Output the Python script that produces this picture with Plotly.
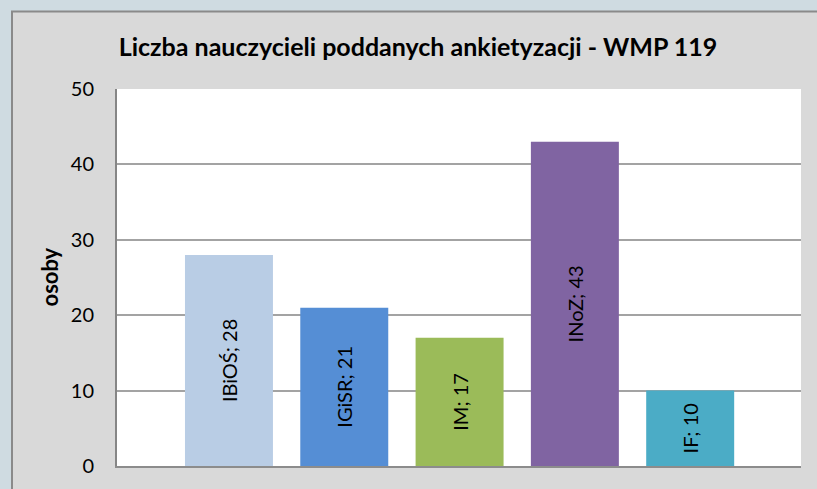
import plotly.graph_objects as go

categories = ["IBiOŚ", "IGiSR", "IM", "INoZ", "IF"]
values = [28, 21, 17, 43, 10]
colors = ["#b9cde5", "#558ed5", "#9bbb59", "#8064a2", "#4bacc6"]
y_ticks = [0, 10, 20, 30, 40, 50]

title_text = "Liczba nauczycieli poddanych ankietyzacji - WMP 119"
y_title = "osoby"

labels = [f"{c}; {v}" for c, v in zip(categories, values)]

fig = go.Figure()
fig.add_trace(go.Bar(
    x=categories,
    y=values,
    marker=dict(color=colors, line=dict(width=0)),
    width=0.763,
    text=labels,
    textposition="inside",
    insidetextanchor="middle",
    textangle=-90,
    textfont=dict(family="Lato", size=20, color="#000000"),
    hoverinfo="skip",
))

W, H = 817, 489
L, R, T, B = 117, 16, 89, 20
pw, ph = W - L - R, H - T - B

def fx(px):
    return (px - L) / pw

def fy(py):
    return (H - B - py) / ph

shapes = [
    # chart area
    dict(type="rect", xref="paper", yref="paper",
         x0=fx(12), x1=fx(830), y0=fy(500), y1=fy(11),
         fillcolor="#d9d9d9", line=dict(color="#8a8a8a", width=2), layer="below"),
    # plot area
    dict(type="rect", xref="paper", yref="paper",
         x0=0, x1=1, y0=0, y1=1,
         fillcolor="#ffffff", line=dict(width=0), layer="below"),
]

fig.update_layout(
    width=W, height=H,
    margin=dict(l=L, r=R, t=T, b=B, pad=0),
    paper_bgcolor="#cfdbe1",
    plot_bgcolor="rgba(0,0,0,0)",
    shapes=shapes,
    showlegend=False,
    title=dict(text=f"<b>{title_text}</b>", x=fx(418), xanchor="center",
               xref="paper", y=1 - 47 / H, yanchor="middle",
               font=dict(family="Lato", size=25, color="#000000")),
    font=dict(family="Lato", color="#000000"),
    annotations=[dict(text=f"<b>{y_title}</b>", xref="paper", yref="paper",
                      x=fx(49), y=fy(279), xanchor="center", yanchor="middle",
                      textangle=-90, showarrow=False,
                      font=dict(family="Lato", size=22, color="#000000"))],
    xaxis=dict(
        range=[-0.971, 4.961],
        showticklabels=False,
        showgrid=False,
        zeroline=False,
        showline=True, linecolor="#8c8c8c", linewidth=1.5,
        fixedrange=True,
    ),
    yaxis=dict(
        range=[0, 50],
        tickvals=y_ticks,
        ticks="",
        ticklabelstandoff=17,
        tickfont=dict(family="Lato", size=20, color="#000000"),
        showgrid=True, gridcolor="#a3a3a3", gridwidth=1.5,
        zeroline=False,
        showline=True, linecolor="#868686", linewidth=2,
        fixedrange=True,
    ),
)

fig.write_html("out.html",
               config={"displayModeBar": False},
               post_script="document.body.style.margin='0';document.body.style.overflow='hidden';")
